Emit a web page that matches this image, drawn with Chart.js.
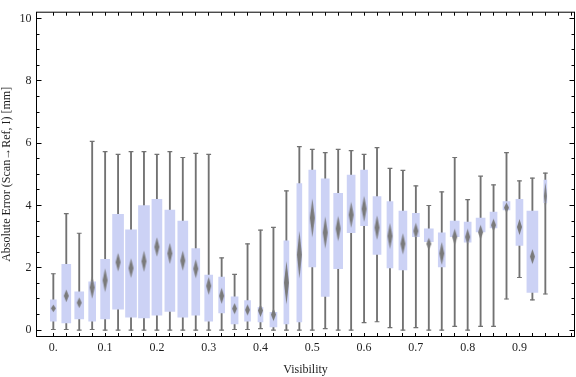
<!DOCTYPE html>
<html>
<head>
<meta charset="utf-8">
<script src="https://cdn.jsdelivr.net/npm/chart.js"></script>
<style>
  html, body { margin: 0; padding: 0; background: #fff; }
  #chart { display: block; }
</style>
</head>
<body>
<canvas id="chart" width="576" height="377"></canvas>
<script>
// box-whisker chart: absolute error vs visibility

var visibility = [0, 0.025, 0.05, 0.075, 0.1, 0.125, 0.15, 0.175, 0.2, 0.225,
  0.25, 0.275, 0.3, 0.325, 0.35, 0.375, 0.4, 0.425, 0.45, 0.475,
  0.5, 0.525, 0.55, 0.575, 0.6, 0.625, 0.65, 0.675, 0.7, 0.725,
  0.75, 0.775, 0.8, 0.825, 0.85, 0.875, 0.9, 0.925, 0.95];

var whiskerLow = [0.02, 0.02, 0.00, 0.02, 0.00, 0.00, 0.00, 0.00, 0.00, 0.00,
  0.00, 0.00, 0.00, 0.00, 0.02, 0.02, 0.05, 0.00, 0.00, 0.00,
  0.00, 0.05, 0.00, 0.00, 0.24, 0.27, 0.08, 0.00, 0.08, 0.00,
  0.00, 0.12, 0.00, 0.12, 0.12, 1.00, 1.69, 0.97, 1.16];

var boxLow = [0.29, 0.23, 0.36, 0.29, 0.36, 0.67, 0.42, 0.39, 0.48, 0.60,
  0.42, 0.48, 0.29, 0.55, 0.20, 0.29, 0.26, 0.10, 0.20, 0.26,
  2.03, 1.08, 1.97, 3.13, 3.35, 2.43, 2.00, 1.93, 3.00, 2.84,
  2.03, 3.00, 2.82, 3.15, 3.28, 3.86, 2.72, 1.21, 4.09];

var median = [0.70, 1.10, 0.88, 1.37, 1.60, 2.18, 1.99, 2.21, 2.67, 2.46,
  2.23, 1.97, 1.42, 1.10, 0.69, 0.65, 0.63, 0.50, 1.52, 2.42,
  3.60, 3.13, 3.26, 3.70, 3.89, 3.29, 3.02, 2.77, 3.18, 2.77,
  2.46, 2.99, 2.99, 3.14, 3.37, 3.93, 3.31, 2.36, 4.30];

var boxHigh = [0.97, 2.11, 1.23, 1.55, 2.27, 3.72, 3.22, 4.00, 4.20, 3.85,
  3.50, 2.62, 1.77, 1.70, 1.07, 0.95, 0.73, 0.57, 2.87, 4.70,
  5.14, 4.86, 4.39, 4.98, 5.14, 4.29, 4.13, 3.82, 3.75, 3.25,
  3.12, 3.50, 3.47, 3.60, 3.79, 4.13, 4.20, 3.82, 4.82];

var whiskerHigh = [1.81, 3.74, 3.11, 6.06, 5.73, 5.64, 5.73, 5.73, 5.64, 5.73,
  5.54, 5.67, 5.64, 2.32, 1.79, 2.77, 3.21, 3.30, 4.47, 5.89,
  5.80, 5.70, 5.80, 5.76, 5.64, 5.86, 5.19, 5.13, 4.63, 4.00,
  4.44, 5.54, 4.19, 4.94, 4.66, 5.70, 4.79, 4.88, 5.04];

// median confidence interval (diamond marker)
var notchLow = [0.58, 0.89, 0.72, 1.00, 1.21, 1.87, 1.66, 1.88, 2.34, 2.11,
  1.91, 1.65, 1.10, 0.84, 0.50, 0.47, 0.42, 0.26, 0.82, 1.63,
  2.97, 2.61, 2.84, 3.26, 3.47, 2.89, 2.58, 2.42, 2.89, 2.56,
  2.10, 2.73, 2.73, 2.89, 3.15, 3.76, 3.05, 2.10, 3.84];

var notchHigh = [0.82, 1.29, 1.05, 1.73, 1.97, 2.47, 2.28, 2.56, 2.97, 2.78,
  2.55, 2.26, 1.68, 1.35, 0.86, 0.82, 0.84, 0.68, 2.21, 3.15,
  4.21, 3.63, 3.66, 4.10, 4.31, 3.68, 3.42, 3.10, 3.42, 2.94,
  2.84, 3.26, 3.26, 3.37, 3.56, 4.10, 3.57, 2.58, 4.73];

var xTickValues = [0, 0.1, 0.2, 0.3, 0.4, 0.5, 0.6, 0.7, 0.8, 0.9];
var xTickLabels = ['0.', '0.1', '0.2', '0.3', '0.4', '0.5', '0.6', '0.7', '0.8', '0.9'];
var yTickValues = [0, 2, 4, 6, 8, 10];
var yTickLabels = ['0', '2', '4', '6', '8', '10'];

// styling
var boxWidthPx = [6, 9, 9, 7, 9, 11, 11, 11, 10, 10,
  10, 8, 8, 6, 7, 6, 5, 7, 5, 5,
  7, 8, 9, 8, 7, 8, 6, 8, 7, 9,
  7, 9, 7, 9, 7, 7, 7, 11, 3];
var boxFill = '#ccd2f5';
var whiskerColor = '#727272';
var diamondColor = '#7a7a7a';
var serif = '"Liberation Serif", "Times New Roman", serif';

Chart.defaults.font.family = serif;
Chart.defaults.font.size = 12;
Chart.defaults.color = '#1e1e1e';

function diamondImage(ctx) {
    var i = ctx.dataIndex;
    var y = ctx.chart.scales.y;
    if (!y || i === undefined) return 'rectRot';
    var h = Math.max(3, Math.abs(y.getPixelForValue(notchLow[i]) - y.getPixelForValue(notchHigh[i])));
    var w = Math.min(5, boxWidthPx[i]);
    var pad = 2;
    var c = document.createElement('canvas');
    c.width = Math.round(w + 2 * pad);
    c.height = Math.round(h + 2 * pad);
    var g = c.getContext('2d');
    g.filter = 'blur(0.5px)';
    g.fillStyle = diamondColor;
    var cx = c.width / 2, cy = c.height / 2;
    g.beginPath();
    g.moveTo(cx, cy - h / 2);
    g.lineTo(cx + w / 2, cy);
    g.lineTo(cx, cy + h / 2);
    g.lineTo(cx - w / 2, cy);
    g.closePath();
    g.fill();
    return c;
}

// frame with inward ticks on all four sides
var framePlugin = {
    id: 'frame',
    afterDatasetsDraw: function(chart) {
        var ctx = chart.ctx, a = chart.chartArea;
        var x = chart.scales.x, y = chart.scales.y;
        ctx.save();
        ctx.strokeStyle = '#000';
        ctx.lineWidth = 1;
        ctx.beginPath();
        for (var k = 0; k <= 40; k++) {
            var px = Math.round(x.getPixelForValue(k * 0.025) - 0.5) + 0.5;
            ctx.moveTo(px, a.bottom); ctx.lineTo(px, a.bottom - 3.5);
            ctx.moveTo(px, a.top); ctx.lineTo(px, a.top + 3.5);
        }
        for (var j = 0; j <= 20; j++) {
            var py = Math.round(y.getPixelForValue(j * 0.5) - 0.5) + 0.5;
            var len = (j % 4 === 0) ? 5 : 3;
            ctx.moveTo(a.left, py); ctx.lineTo(a.left + len, py);
            ctx.moveTo(a.right, py); ctx.lineTo(a.right - len, py);
        }
        ctx.stroke();
        ctx.strokeRect(a.left, a.top, a.right - a.left, a.bottom - a.top);
        ctx.restore();
    }
};

var datasets = [];

datasets.push({
    type: 'bar',
    data: visibility.map(function(v, i) { return { x: v, y: [whiskerLow[i], whiskerHigh[i]] }; }),
    backgroundColor: whiskerColor,
    borderWidth: 0,
    barThickness: 1.2,
    grouped: false,
    order: 4
});

datasets.push({
    type: 'scatter',
    data: visibility.map(function(v, i) { return { x: v, y: whiskerLow[i] }; })
        .concat(visibility.map(function(v, i) { return { x: v, y: whiskerHigh[i] }; })),
    pointStyle: 'line',
    pointRadius: 2.4,
    pointBorderWidth: 1.2,
    pointBorderColor: whiskerColor,
    pointHoverRadius: 2.4,
    order: 3
});

var widthClasses = boxWidthPx.filter(function(w, i, arr) { return arr.indexOf(w) === i; });
widthClasses.forEach(function(w) {
    var pts = [];
    visibility.forEach(function(v, i) {
        if (boxWidthPx[i] === w) pts.push({ x: v, y: [boxLow[i], boxHigh[i]] });
    });
    datasets.push({
        type: 'bar',
        data: pts,
        backgroundColor: boxFill,
        borderWidth: 0,
        barThickness: w,
        grouped: false,
        order: 2
    });
});

datasets.push({
    type: 'scatter',
    data: visibility.map(function(v, i) { return { x: v, y: median[i] }; }),
    pointStyle: diamondImage,
    pointRadius: 3,
    pointHoverRadius: 3,
    order: 1
});

new Chart(document.getElementById('chart').getContext('2d'), {
    type: 'bar',
    data: { datasets: datasets },
    plugins: [framePlugin],
    options: {
        responsive: false,
        animation: false,
        events: [],
        layout: { autoPadding: false, padding: { top: 4.5, right: 1.5, left: 0, bottom: 0 } },
        plugins: {
            legend: { display: false },
            tooltip: { enabled: false },
            title: { display: false }
        },
        scales: {
            x: {
                type: 'linear',
                offset: false,
                min: -0.0325,
                max: 1.0063,
                grid: { display: false, drawTicks: false },
                border: { display: false },
                afterFit: function(scale) { scale.height = 40.5; },
                afterBuildTicks: function(scale) {
                    scale.ticks = xTickValues.map(function(v) { return { value: v }; });
                },
                ticks: {
                    autoSkip: false,
                    maxRotation: 0,
                    padding: 4,
                    callback: function(value, index) { return xTickLabels[index]; }
                },
                title: { display: true, text: 'Visibility', padding: { top: 0, bottom: 0 }, color: '#1e1e1e' }
            },
            y: {
                type: 'linear',
                min: -0.204,
                max: 10.204,
                grid: { display: false, drawTicks: false },
                border: { display: false },
                afterFit: function(scale) { scale.width = 36.5; },
                afterBuildTicks: function(scale) {
                    scale.ticks = yTickValues.map(function(v) { return { value: v }; });
                },
                ticks: {
                    padding: 5,
                    callback: function(value, index) { return yTickLabels[index]; }
                },
                title: { display: true, text: 'Absolute Error (Scan\u2192Ref, I) [mm]', padding: { top: 0, bottom: 0 }, color: '#1e1e1e' }
            }
        }
    }
});
</script>
</body>
</html>
